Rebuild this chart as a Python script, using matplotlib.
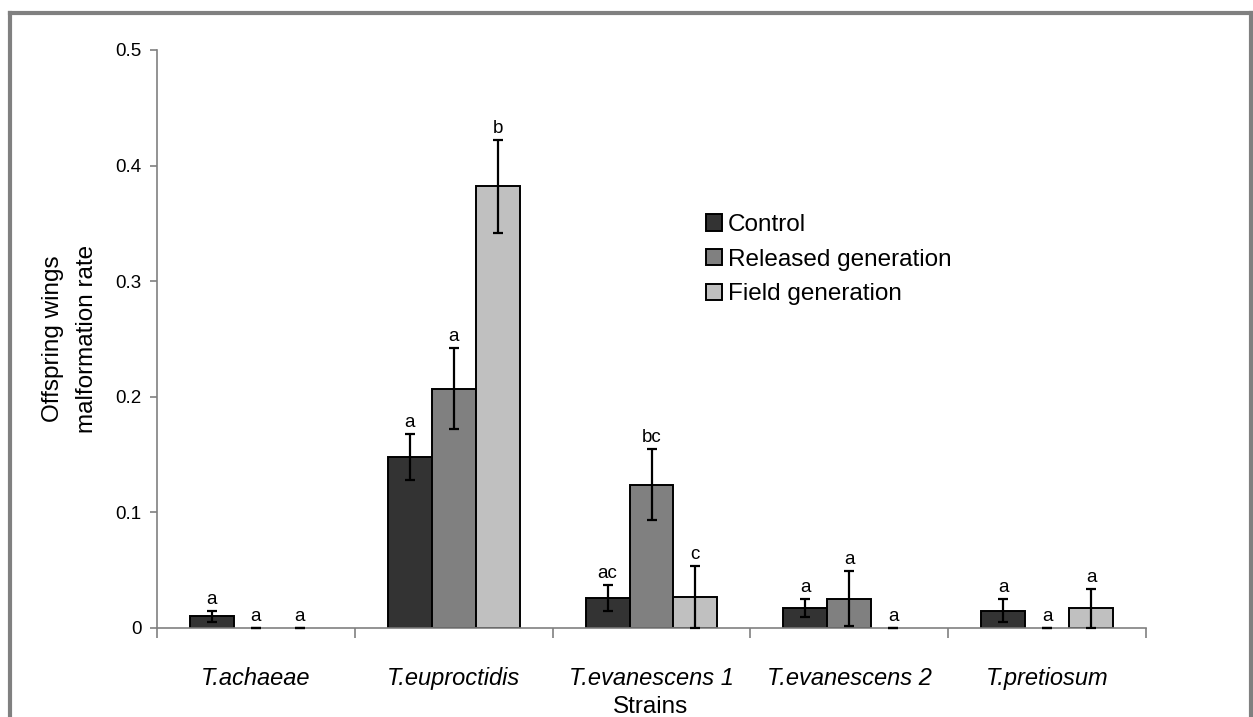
import numpy as np
import matplotlib
matplotlib.use("Agg")
import matplotlib.pyplot as plt
from matplotlib.lines import Line2D
from matplotlib.patches import Patch

plt.rcParams['font.family'] = ['Liberation Sans', 'DejaVu Sans']

# data
strains = ["T.achaeae", "T.euproctidis", "T.evanescens 1", "T.evanescens 2", "T.pretiosum"]
series = ["Control", "Released generation", "Field generation"]
control = [0.010, 0.148, 0.026, 0.0175, 0.015]
control_err = [0.005, 0.020, 0.0115, 0.008, 0.010]
released = [0.0, 0.207, 0.124, 0.0255, 0.0]
released_err = [0.0, 0.035, 0.031, 0.024, 0.0]
field = [0.0, 0.382, 0.027, 0.0, 0.017]
field_err = [0.0, 0.040, 0.027, 0.0, 0.017]
letters_control = ["a", "a", "ac", "a", "a"]
letters_released = ["a", "a", "bc", "a", "a"]
letters_field = ["a", "b", "c", "a", "a"]
yticks = [0, 0.1, 0.2, 0.3, 0.4, 0.5]
ytick_labels = ["0", "0.1", "0.2", "0.3", "0.4", "0.5"]

colors = ["#333333", "#808080", "#c0c0c0"]
W, H = 1253, 717
fig = plt.figure(figsize=(W / 100, H / 100), dpi=100)
ax = fig.add_axes([157 / W, (H - 628) / H, (1146 - 157) / W, (628 - 50) / H])

x = np.arange(len(strains))
bw = 0.222
values = [control, released, field]
errs = [control_err, released_err, field_err]
letters = [letters_control, letters_released, letters_field]

for i in range(3):
    pos = x + (i - 1) * bw
    v = np.array(values[i])
    e = np.array(errs[i])
    # zero bars show no outline, only the error cap at the baseline
    lws = [1.4 if val > 0 else 0 for val in v]
    ax.bar(pos, v, bw, color=colors[i], edgecolor="black", linewidth=lws, zorder=2)
    lo = np.minimum(e, v)
    ax.errorbar(pos, v, yerr=[lo, e], fmt="none", ecolor="black",
                elinewidth=1.6, capsize=3.8, capthick=1.6, zorder=3,
                clip_on=False)
    for p, top, lab in zip(pos, v + e, letters[i]):
        ax.annotate(lab, (p, top), xytext=(0, 2), textcoords="offset points",
                    ha="center", va="bottom", fontsize=13.5)

ax.set_xlim(-0.5, len(strains) - 0.5)
ax.set_ylim(0, 0.5)
ax.set_yticks(yticks)
ax.set_yticklabels(ytick_labels, fontsize=13.5)
ax.set_xticks(np.arange(len(strains) + 1) - 0.5)
ax.set_xticklabels([])
ax.set_xticks(x, minor=True)
ax.set_xticklabels(strains, minor=True, fontsize=17, style="italic")
ax.tick_params(axis="x", which="major", length=7, color="#808080", width=1.2)
ax.tick_params(axis="x", which="minor", length=0, pad=28)
ax.tick_params(axis="y", length=5, color="#808080", width=1.2, pad=6)
for s in ["top", "right"]:
    ax.spines[s].set_visible(False)
for s in ["left", "bottom"]:
    ax.spines[s].set_color("#808080")
    ax.spines[s].set_linewidth(1.2)

fig.text(70 / W, 1 - 339 / H, "Offspring wings\nmalformation rate", rotation=90,
         ha="center", va="center", fontsize=17.5, linespacing=1.7,
         multialignment="center")
fig.text(651 / W, 1 - 707 / H, "Strains", ha="center", va="center", fontsize=17.5)

handles = [Patch(facecolor=c, edgecolor="black", linewidth=1.4) for c in colors]
ax.legend(handles, series, loc="upper left", bbox_to_anchor=(706 / W, 1 - 214 / H),
          bbox_transform=fig.transFigure, frameon=False, fontsize=17.5,
          handlelength=0.65, handleheight=0.65, handletextpad=0.25,
          labelspacing=0.52, borderaxespad=0, borderpad=0)

# grey frame around the picture
fcol = "#808080"
fig.add_artist(Line2D([9.5 / W, 9.5 / W], [0, 1 - 12.5 / H], color=fcol, lw=3,
                      transform=fig.transFigure))
fig.add_artist(Line2D([9.5 / W, 1250.5 / W], [1 - 12.5 / H, 1 - 12.5 / H], color=fcol,
                      lw=3, transform=fig.transFigure))
fig.add_artist(Line2D([1250.5 / W, 1250.5 / W], [0, 1 - 12.5 / H], color=fcol, lw=3,
                      transform=fig.transFigure))

fig.savefig("out.png", dpi=100)
